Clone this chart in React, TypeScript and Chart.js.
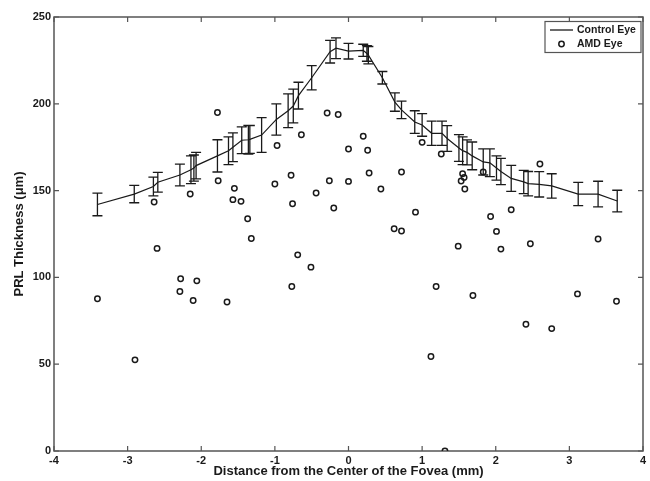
import React, { useEffect, useRef } from "react";
import { Chart, registerables } from "chart.js";

Chart.register(...registerables);

// Control eye: position (mm), mean thickness (µm), error (µm)
const controlX = [-3.41, -2.91, -2.65, -2.59, -2.29, -2.14, -2.1, -2.07, -1.78, -1.63, -1.57, -1.45, -1.36, -1.34, -1.18, -0.98, -0.82, -0.75, -0.68, -0.5, -0.25, -0.17, 0.0, 0.2, 0.25, 0.27, 0.46, 0.63, 0.72, 0.9, 1.0, 1.13, 1.27, 1.34, 1.5, 1.55, 1.61, 1.68, 1.83, 1.92, 2.01, 2.07, 2.21, 2.38, 2.44, 2.59, 2.76, 3.12, 3.39, 3.65];
const controlMean = [142, 148, 152.4, 154.8, 159, 162, 163, 164.4, 170, 173, 175, 179, 179.3, 179.5, 182, 191, 196, 198.7, 204.7, 215, 230, 232, 230.3, 230.8, 229, 228, 215, 201, 196.5, 189.5, 187.8, 183, 183, 180, 174.5, 173, 172, 170, 166.5, 166, 163, 161, 157, 155, 154, 153.6, 152.7, 148, 148, 144];
const controlErr = [6.5, 5, 5.4, 5.7, 6.3, 8, 7.5, 7.6, 9.3, 8, 8.3, 7.7, 8.3, 8, 10, 9, 9.7, 9.7, 7.7, 7, 6.5, 6, 4.5, 3.5, 4.5, 5, 3.6, 5.3, 5, 6.5, 6.5, 7, 7, 7.4, 7.7, 8, 7.2, 8, 7.5, 8, 7, 7.6, 7.5, 6.7, 7, 7.3, 7, 6.7, 7.4, 6.2];

// AMD eye: position (mm), thickness (µm)
const amdX = [-3.41, -2.9, -2.64, -2.6, -2.28, -2.29, -2.15, -2.11, -2.06, -1.78, -1.77, -1.65, -1.57, -1.55, -1.46, -1.37, -1.32, -1.0, -0.97, -0.78, -0.77, -0.76, -0.69, -0.64, -0.51, -0.44, -0.29, -0.26, -0.2, -0.14, 0.0, 0.0, 0.2, 0.26, 0.28, 0.44, 0.62, 0.72, 0.72, 0.91, 1.0, 1.12, 1.19, 1.26, 1.31, 1.49, 1.53, 1.55, 1.57, 1.58, 1.69, 1.83, 1.93, 2.01, 2.07, 2.21, 2.41, 2.47, 2.6, 2.76, 3.11, 3.39, 3.64];
const amdY = [87.7, 52.5, 143.4, 116.7, 99.2, 91.9, 148, 86.7, 98, 195, 155.7, 85.8, 144.8, 151.3, 143.8, 133.8, 122.4, 153.8, 176, 158.8, 94.8, 142.4, 113, 182.2, 105.9, 148.6, 194.7, 155.7, 140, 193.8, 174, 155.3, 181.3, 173.2, 160.1, 150.9, 128, 160.7, 126.7, 137.6, 177.8, 54.4, 94.8, 171.1, 0, 118, 155.5, 159.7, 157.6, 150.9, 89.6, 160.7, 135.1, 126.5, 116.3, 139, 73, 119.4, 165.3, 70.5, 90.5, 122.1, 86.3];

const xTicks = [-4, -3, -2, -1, 0, 1, 2, 3, 4];
const yTicks = [0, 50, 100, 150, 200, 250];

const seriesNames = ["Control Eye", "AMD Eye"];
const xTitle = "Distance from the Center of the Fovea (mm)";
const yTitle = "PRL Thickness (\u03bcm)";

const FONT = "'Liberation Sans', Arial, Helvetica, sans-serif";
const INK = "#1a1a1a";
const AXIS = "#555";

const boxPlugin = {
  id: "boxPlugin",
  beforeDatasetsDraw(chart: any) {
    const { ctx, chartArea: a, scales } = chart;
    const xs = scales.x, ys = scales.y;
    ctx.save();
    ctx.strokeStyle = AXIS;
    ctx.lineWidth = 1.5;
    ctx.strokeRect(a.left, a.top, a.right - a.left, a.bottom - a.top);
    ctx.lineWidth = 1.2;
    const tl = 5;
    ctx.beginPath();
    xTicks.forEach((v) => {
      const px = xs.getPixelForValue(v);
      ctx.moveTo(px, a.bottom); ctx.lineTo(px, a.bottom - tl);
      ctx.moveTo(px, a.top); ctx.lineTo(px, a.top + tl);
    });
    yTicks.forEach((v) => {
      const py = ys.getPixelForValue(v);
      ctx.moveTo(a.left, py); ctx.lineTo(a.left + tl, py);
      ctx.moveTo(a.right, py); ctx.lineTo(a.right - tl, py);
    });
    ctx.stroke();
    ctx.restore();
  },
};

const errorBarPlugin = {
  id: "errorBarPlugin",
  afterDatasetsDraw(chart: any) {
    const { ctx, scales } = chart;
    const xs = scales.x, ys = scales.y;
    ctx.save();
    ctx.strokeStyle = INK;
    ctx.lineWidth = 1.3;
    ctx.beginPath();
    controlX.forEach((xv, i) => {
      const px = xs.getPixelForValue(xv);
      const t = ys.getPixelForValue(controlMean[i] + controlErr[i]);
      const b = ys.getPixelForValue(controlMean[i] - controlErr[i]);
      ctx.moveTo(px, t); ctx.lineTo(px, b);
      ctx.moveTo(px - 5, t); ctx.lineTo(px + 5, t);
      ctx.moveTo(px - 5, b); ctx.lineTo(px + 5, b);
    });
    ctx.stroke();
    ctx.restore();
  },
};

const legendPlugin = {
  id: "legendPlugin",
  afterDraw(chart: any) {
    const { ctx, chartArea: a } = chart;
    const w = 96, h = 31;
    const x = a.right - 2 - w, y = a.top + 4.5;
    ctx.save();
    ctx.fillStyle = "#fff";
    ctx.fillRect(x, y, w, h);
    ctx.strokeStyle = AXIS;
    ctx.lineWidth = 1.2;
    ctx.strokeRect(x, y, w, h);
    ctx.strokeStyle = INK;
    ctx.lineWidth = 1.3;
    ctx.beginPath();
    ctx.moveTo(x + 5, y + 8.5); ctx.lineTo(x + 28, y + 8.5);
    ctx.stroke();
    ctx.lineWidth = 1.5;
    ctx.beginPath();
    ctx.arc(x + 16.5, y + 22.5, 2.7, 0, Math.PI * 2);
    ctx.stroke();
    ctx.fillStyle = INK;
    ctx.font = "bold 10.5px " + FONT;
    ctx.textBaseline = "middle";
    ctx.textAlign = "left";
    ctx.fillText(seriesNames[0], x + 32, y + 9);
    ctx.fillText(seriesNames[1], x + 32, y + 23);
    ctx.restore();
  },
};

export default function App() {
  const ref = useRef<HTMLCanvasElement | null>(null);
  useEffect(() => {
    if (!ref.current) return;
    const chart = new Chart(ref.current, {
      type: "scatter",
      data: {
        datasets: [
          {
            type: "line",
            label: seriesNames[0],
            data: controlX.map((x, i) => ({ x, y: controlMean[i] })),
            borderColor: INK,
            borderWidth: 1.2,
            pointRadius: 0,
            tension: 0,
            fill: false,
          } as any,
          {
            type: "scatter",
            label: seriesNames[1],
            data: amdX.map((x, i) => ({ x, y: amdY[i] })),
            borderColor: INK,
            backgroundColor: "rgba(0,0,0,0)",
            pointBackgroundColor: "rgba(0,0,0,0)",
            pointBorderColor: INK,
            pointBorderWidth: 1.5,
            pointRadius: 2.7,
            pointHoverRadius: 2.7,
          } as any,
        ],
      },
      options: {
        animation: false,
        responsive: false,
        maintainAspectRatio: false,
        events: [],
        layout: { padding: { left: 0, right: 7, top: 17, bottom: 0 } },
        plugins: { legend: { display: false }, tooltip: { enabled: false } },
        scales: {
          x: {
            type: "linear",
            min: -4,
            max: 4,
            afterBuildTicks: (s: any) => { s.ticks = xTicks.map((v) => ({ value: v })); },
            afterFit: (s: any) => { s.height = 30; },
            grid: { display: false, drawTicks: false },
            border: { display: false },
            ticks: {
              color: INK,
              font: { family: FONT, size: 11, weight: "bold" },
              padding: 3,
              maxRotation: 0,
              autoSkip: false,
            },
            title: {
              display: true,
              text: xTitle,
              color: INK,
              font: { family: FONT, size: 13, weight: "bold" },
              padding: { top: 0, bottom: 2 },
            },
          },
          y: {
            type: "linear",
            min: 0,
            max: 250,
            afterBuildTicks: (s: any) => { s.ticks = yTicks.map((v) => ({ value: v })); },
            afterFit: (s: any) => { s.width = 54; },
            grid: { display: false, drawTicks: false },
            border: { display: false },
            ticks: {
              color: INK,
              font: { family: FONT, size: 11, weight: "bold" },
              padding: 3,
              autoSkip: false,
            },
            title: {
              display: true,
              text: yTitle,
              color: INK,
              font: { family: FONT, size: 13, weight: "bold" },
              padding: { top: 12, bottom: 0 },
            },
          },
        },
      } as any,
      plugins: [boxPlugin, errorBarPlugin, legendPlugin],
    });
    return () => chart.destroy();
  }, []);
  return (
    <div style={{ position: "fixed", left: 0, top: 0, width: 650, height: 481, background: "#fff" }}>
      <canvas ref={ref} width={650} height={481} style={{ width: 650, height: 481, display: "block" }} />
    </div>
  );
}
